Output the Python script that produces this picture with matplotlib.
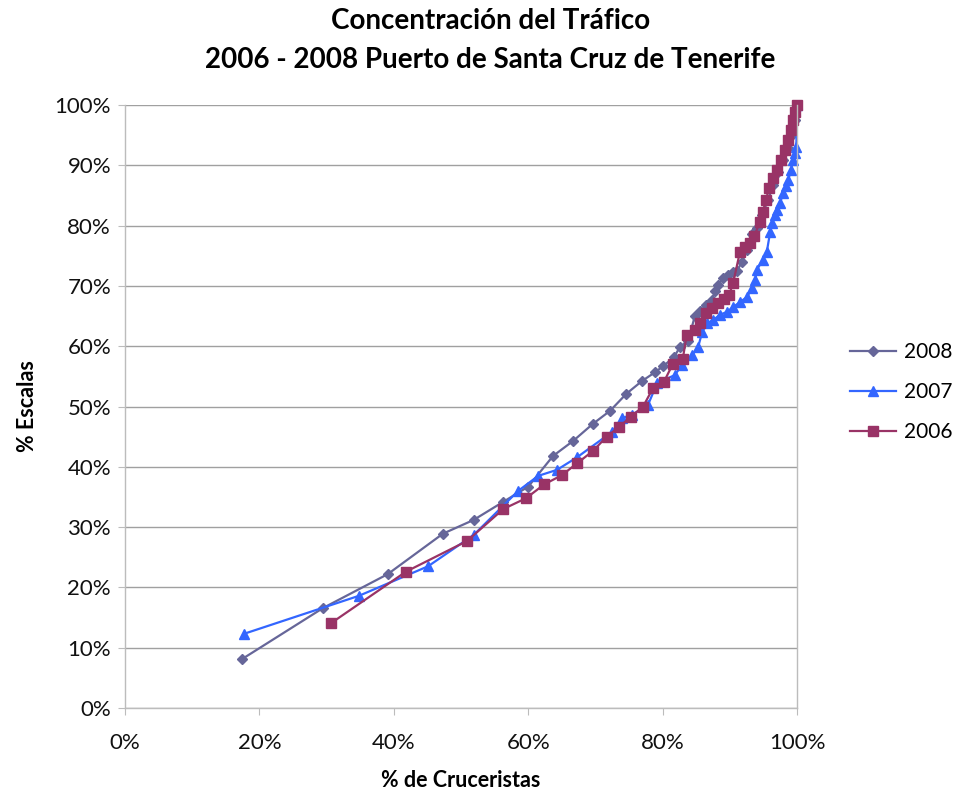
import matplotlib
matplotlib.use("Agg")
import matplotlib.pyplot as plt
from matplotlib.ticker import FuncFormatter, MultipleLocator

# ---- data (percent values) ----
x_2008 = [17.4, 29.5, 39.1, 47.3, 51.9, 56.3, 60.0, 63.7, 66.7, 69.6, 72.2, 74.6,
          76.9, 78.9, 80.1, 81.7, 82.6, 83.8, 84.8, 85.6, 86.5, 87.4, 87.8, 88.2,
          89.0, 89.7, 90.5, 91.1, 91.8, 92.6, 93.3, 94.0, 94.8, 95.7, 96.4, 97.2,
          97.9, 98.7, 99.3, 99.7, 100.0]
y_2008 = [8.1, 16.6, 22.2, 28.9, 31.2, 34.2, 36.7, 41.8, 44.3, 47.1, 49.3, 52.1,
          54.2, 55.7, 56.7, 58.2, 59.9, 60.9, 65.0, 65.8, 66.8, 67.7, 69.2, 70.1,
          71.3, 71.8, 72.3, 72.5, 74.0, 76.0, 78.6, 79.6, 81.8, 84.2, 86.7, 88.9,
          90.9, 92.9, 95.0, 97.5, 100.0]

x_2007 = [17.7, 34.8, 45.1, 51.9, 58.5, 61.5, 64.3, 67.3, 72.5, 74.0, 75.4, 77.8,
          79.2, 81.8, 82.9, 84.4, 85.3, 85.9, 86.6, 87.5, 88.5, 89.6, 90.5, 91.5,
          92.6, 93.3, 93.8, 94.0, 94.9, 95.5, 96.0, 96.3, 96.7, 97.0, 97.5, 97.9,
          98.4, 98.7, 99.1, 99.4, 99.7, 99.9, 100.0]
y_2007 = [12.3, 18.6, 23.5, 28.7, 36.0, 38.5, 39.5, 41.6, 45.8, 48.1, 48.6, 50.2,
          53.9, 55.2, 56.9, 58.5, 59.9, 62.4, 63.8, 64.3, 65.2, 65.7, 66.5, 67.3,
          68.2, 69.7, 71.0, 72.6, 74.3, 75.6, 78.9, 80.4, 81.8, 82.6, 83.7, 85.4,
          86.6, 87.6, 89.2, 90.9, 92.0, 93.0, 100.0]

x_2006 = [30.7, 41.8, 50.9, 56.3, 59.7, 62.4, 65.0, 67.3, 69.6, 71.7, 73.5, 75.3,
          77.1, 78.6, 80.2, 81.5, 83.0, 83.6, 84.8, 85.6, 86.5, 87.4, 88.2, 89.1,
          89.9, 90.5, 91.5, 92.3, 93.0, 93.6, 94.5, 94.9, 95.4, 95.8, 96.4, 97.0,
          97.6, 98.2, 98.7, 99.1, 99.4, 99.7, 100.0]
y_2006 = [14.1, 22.6, 27.7, 33.0, 34.8, 37.1, 38.6, 40.6, 42.6, 45.0, 46.6, 48.3,
          50.0, 53.1, 54.1, 57.0, 57.9, 61.9, 62.7, 63.8, 65.5, 66.3, 67.2, 67.8,
          68.5, 70.5, 75.6, 76.5, 77.1, 78.2, 80.6, 82.3, 84.2, 86.2, 87.9, 89.2,
          90.9, 92.5, 94.2, 95.9, 97.5, 98.8, 100.0]

series = [
    ("2008", x_2008, y_2008, "#666699", "D", 5.0),
    ("2007", x_2007, y_2007, "#3366FF", "^", 7.0),
    ("2006", x_2006, y_2006, "#993366", "s", 7.0),
]

title_lines = ["Concentración del Tráfico", "2006 - 2008 Puerto de Santa Cruz de Tenerife"]
xlabel = "% de Cruceristas"
ylabel = "% Escalas"

plt.rcParams['font.family'] = ['Lato', 'DejaVu Sans']

fig = plt.figure(figsize=(9.58, 7.94), dpi=100)
ax = fig.add_axes([125/958, 1-708/794, (797-125)/958, (708-105)/794])

for name, xs, ys, col, mk, ms in series:
    ax.plot(xs, ys, color=col, marker=mk, markersize=ms, linewidth=1.6,
            markeredgecolor=col, label=name, clip_on=False)

ax.set_xlim(0, 100)
ax.set_ylim(0, 100)
ax.xaxis.set_major_locator(MultipleLocator(20))
ax.yaxis.set_major_locator(MultipleLocator(10))
pct = FuncFormatter(lambda v, p: f"{int(round(v))}%")
ax.xaxis.set_major_formatter(pct)
ax.yaxis.set_major_formatter(pct)
ax.grid(axis='y', color='#a0a0a0', linewidth=1.0)
ax.set_axisbelow(True)
for s in ['left', 'bottom', 'right']:
    ax.spines[s].set_color('#bcbcbc')
    ax.spines[s].set_linewidth(1.0)
ax.spines['top'].set_visible(False)
ax.tick_params(axis='both', colors='#bcbcbc', labelcolor='#111111', labelsize=16,
               length=5, direction='out')
ax.tick_params(axis='x', pad=13)
ax.tick_params(axis='y', pad=5)

ax.set_xlabel(xlabel, fontsize=15.5, fontweight='bold', labelpad=12)
ax.set_ylabel(ylabel, fontsize=15.5, fontweight='bold', labelpad=12)

fig.text(0.512, 1-21/794, title_lines[0], ha='center', va='center', fontsize=20, fontweight='bold')
fig.text(0.512, 1-60/794, title_lines[1], ha='center', va='center', fontsize=20, fontweight='bold')

leg = ax.legend(loc='center left', bbox_to_anchor=(1.066, 0.524), frameon=False,
                fontsize=15, handlelength=2.2, labelspacing=0.95, handletextpad=0.4,
                borderaxespad=0.0, borderpad=0.4)

fig.savefig("out.png", dpi=100)
